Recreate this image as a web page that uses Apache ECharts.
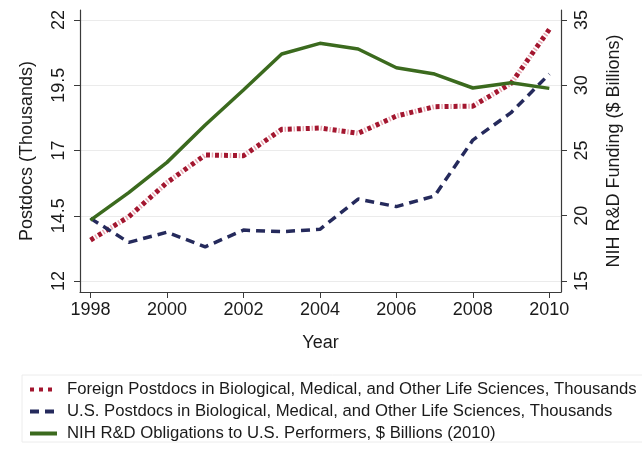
<!DOCTYPE html>
<html>
<head>
<meta charset="utf-8">
<script src="https://cdn.jsdelivr.net/npm/echarts@6/dist/echarts.min.js"></script>
<style>
  html, body { margin: 0; padding: 0; background: #fff; }
  #chart { width: 642px; height: 449px; }
</style>
</head>
<body>
<div id="chart"></div>
<script>
// values
const years = [1998, 1999, 2000, 2001, 2002, 2003, 2004, 2005, 2006, 2007, 2008, 2009, 2010];
const foreignPostdocs = [13.57, 14.46, 15.77, 16.83, 16.80, 17.81, 17.86, 17.66, 18.32, 18.68, 18.70, 19.57, 21.64];
const usPostdocs = [14.40, 13.48, 13.87, 13.31, 13.95, 13.89, 13.98, 15.14, 14.85, 15.26, 17.40, 18.45, 19.93];
const nihFunding = [19.67, 21.77, 24.09, 26.95, 29.63, 32.39, 33.21, 32.78, 31.34, 30.86, 29.79, 30.19, 29.76];

const xTicks = [1998, 2000, 2002, 2004, 2006, 2008, 2010];
const leftTicks = [12, 14.5, 17, 19.5, 22];
const rightTicks = [15, 20, 25, 30, 35];

const names = [
  "Foreign Postdocs in Biological, Medical, and Other Life Sciences, Thousands",
  "U.S. Postdocs in Biological, Medical, and Other Life Sciences, Thousands",
  "NIH R&D Obligations to U.S. Performers, $ Billions (2010)",
];

const font = "'Liberation Sans', Arial, Helvetica, sans-serif";
const axisColor = "#3a3a3a";
const textColor = "#1a1a1a";

const pairs = (vals) => years.map((y, i) => [y, vals[i]]);

const chart = echarts.init(document.getElementById("chart"));

const yAxisBase = (ticks, min, max, pos) => ({
  type: "value",
  position: pos,
  min: min,
  max: max,
  axisLine: { show: true, lineStyle: { color: axisColor, width: 1.2 } },
  axisTick: { show: true, length: 6, customValues: ticks, lineStyle: { color: axisColor } },
  axisLabel: {
    customValues: ticks,
    rotate: 90,
    margin: 12,
    fontSize: 18,
    color: textColor,
    fontFamily: font,
  },
  splitLine: { show: pos === "left", lineStyle: { color: "#ebebeb", width: 1 } },
  nameLocation: "middle",
  nameRotate: 90,
  nameTextStyle: { fontSize: 18, color: textColor, fontFamily: font },
});

chart.setOption({
  animation: false,
  textStyle: { fontFamily: font },
  grid: { left: 80, right: 81, top: 10, bottom: 157, containLabel: false },
  xAxis: {
    type: "value",
    min: 1997.725,
    max: 2010.306,
    name: "Year",
    nameLocation: "middle",
    nameGap: 42,
    nameTextStyle: { fontSize: 18, color: textColor, fontFamily: font },
    axisLine: { show: true, onZero: false, lineStyle: { color: axisColor, width: 1.2 } },
    axisTick: { show: true, length: 6, customValues: xTicks, lineStyle: { color: axisColor } },
    axisLabel: {
      customValues: xTicks,
      margin: 9,
      fontSize: 18,
      color: textColor,
      fontFamily: font,
      formatter: (v) => String(v),
    },
    splitLine: { show: false },
  },
  yAxis: [
    Object.assign(yAxisBase(leftTicks, 11.579, 22.383, "left"), {
      name: "Postdocs (Thousands)",
      nameGap: 44,
    }),
    Object.assign(yAxisBase(rightTicks, 14.157, 35.766, "right"), {
      name: "NIH R&D Funding ($ Billions)",
      nameGap: 44,
      nameRotate: 90,
    }),
  ],
  legend: {
    orient: "vertical",
    left: 22,
    top: 375,
    data: names,
    itemWidth: 27,
    itemHeight: 10,
    itemGap: 5,
    padding: [6, 8, 0, 6],
    borderColor: "#ececec",
    borderWidth: 1,
    itemStyle: { opacity: 0 },
    lineStyle: { width: 4 },
    textStyle: { fontSize: 16.7, color: textColor, fontFamily: font, padding: [0, 0, 0, 5] },
  },
  series: [
    {
      // pale ticks between the dark dots of the foreign line
      name: "foreign-light",
      type: "line",
      yAxisIndex: 0,
      data: pairs(foreignPostdocs),
      symbol: "none",
      silent: true,
      lineStyle: { color: "#e6a7b1", width: 5, type: [1.5, 7.5], dashOffset: 3.25, cap: "butt" },
      z: 2,
    },
    {
      name: names[0],
      type: "line",
      yAxisIndex: 0,
      data: pairs(foreignPostdocs),
      symbol: "none",
      itemStyle: { color: "#a3162f" },
      lineStyle: { color: "#a3162f", width: 5, type: [4, 5], cap: "butt" },
      z: 3,
    },
    {
      name: names[1],
      type: "line",
      yAxisIndex: 0,
      data: pairs(usPostdocs),
      symbol: "none",
      itemStyle: { color: "#252a5c" },
      lineStyle: { color: "#252a5c", width: 3.5, type: [9, 6], cap: "butt" },
      z: 4,
    },
    {
      name: names[2],
      type: "line",
      yAxisIndex: 1,
      data: pairs(nihFunding),
      symbol: "none",
      itemStyle: { color: "#3b6a1e" },
      lineStyle: { color: "#3b6a1e", width: 3.5 },
      z: 5,
    },
  ],
});
</script>
</body>
</html>
